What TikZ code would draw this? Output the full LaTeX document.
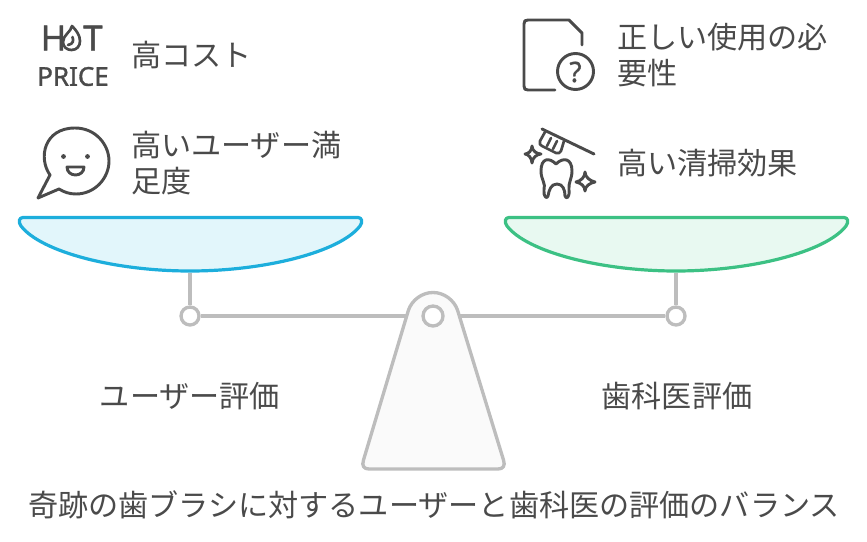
\documentclass[tikz,border=0pt]{standalone}
\usepackage{fontspec}
\setmainfont{Noto Sans CJK JP}
\newfontfamily\iconfont[FakeBold=1.2]{Noto Sans}
\definecolor{ink}{HTML}{4A4A4A}
\definecolor{beam}{HTML}{BDBDBD}
\definecolor{bluel}{HTML}{1DAEDC}
\definecolor{bluef}{HTML}{E2F6FB}
\definecolor{greenl}{HTML}{3CC184}
\definecolor{greenf}{HTML}{E8F9F1}
\tikzset{
  lbl/.style={font=\fontsize{22.6pt}{27pt}\selectfont,text=ink,inner sep=0pt,outer sep=0pt},
  lblL/.style={lbl,anchor=west,align=left},
  pivot/.style={circle,draw=beam,line width=2.5pt,fill=white,inner sep=0pt},
  bar/.style={draw=beam,line width=2.6pt},
  pan/.style={line width=2.4pt,line join=round},
  icon/.style={draw=ink,line width=2.2pt,line cap=round,line join=round},
  iconthin/.style={draw=ink,line width=2pt,line cap=round,line join=round},
  icontext/.style={font=\iconfont\fontsize{#1}{#1}\selectfont,text=ink,inner sep=0pt},
}
\begin{document}
\begin{tikzpicture}[x=0.75pt,y=-0.75pt]
\useasboundingbox (0,0) rectangle (867,542);
% pans
\draw[pan,draw=bluel,fill=bluef]
  (23,217.5) -- (358,217.5) .. controls (362,217.5) and (363,222) .. (360,226)
  .. controls (340,252) and (265,271) .. (190,271)
  .. controls (115,271) and (41,252) .. (21,226)
  .. controls (18,222) and (19,217.5) .. (23,217.5) -- cycle;
\draw[pan,draw=greenl,fill=greenf]
  (509,217.5) -- (844,217.5) .. controls (848,217.5) and (849,222) .. (846,226)
  .. controls (826,252) and (751,271) .. (676,271)
  .. controls (601,271) and (527,252) .. (507,226)
  .. controls (504,222) and (505,217.5) .. (509,217.5) -- cycle;
\coordinate (panL) at (190,272.5);
\coordinate (panR) at (676,272.5);
\node[pivot,minimum size=13.5pt] (hingeL) at (190,316) {};
\node[pivot,minimum size=13.5pt] (hingeR) at (676,316) {};
\node[pivot,minimum size=15pt] (centre) at (433,316) {};
\draw[bar] (panL) -- (hingeL);
\draw[bar] (panR) -- (hingeR);
\draw[bar] (hingeL) -- (centre);
\draw[bar] (hingeR) -- (centre);
% stand
\draw[draw=beam,fill=gray!4,line width=2.5pt,line join=round]
  (408.5,310) .. controls (412,300) and (422,292.5) .. (433,292.5)
  .. controls (444,292.5) and (454,300) .. (457.5,310)
  -- (503.5,460) .. controls (505.5,466) and (503,469) .. (498,469)
  -- (369,469) .. controls (364,469) and (361.5,466) .. (363.5,460) -- cycle;
\node[pivot,minimum size=15pt] at (433,316) {};
% labels
\node[lblL] (a) at (131,55) {高コスト};
\node[lblL,text width=225pt] (b) at (131,163) {高いユーザー満\\足度};
\node[lblL,text width=225pt] (c) at (617,55) {正しい使用の必\\要性};
\node[lblL] (d) at (617,163) {高い清掃効果};
\node[lbl] (e) at (190,396) {ユーザー評価};
\node[lbl] (f) at (677,396) {歯科医評価};
\node[lbl] (g) at (434,505) {奇跡の歯ブラシに対するユーザーと歯科医の評価のバランス};
% hot price icon
\node[icontext=26pt] (hotH) at (53.5,38) {H};
\node[icontext=26pt] (hotT) at (93,38) {T};
\node[icontext=19.5pt] (price) at (73,76.5) {PRICE};
\draw[iconthin] (72,26) .. controls (71,32) and (63,35) .. (63,42)
  .. controls (63,47) and (67,50) .. (71.5,50)
  .. controls (77,50) and (80,46) .. (80,41)
  .. controls (80,35) and (76,30) .. (72,26) -- cycle;
\draw[iconthin] (72.5,37) .. controls (74,41) and (73,44) .. (68,45);
% speech bubble
\draw[icon] (50,175) .. controls (38,158) and (44,128) .. (75,128)
  .. controls (96,128) and (109,145) .. (109,161)
  .. controls (109,178) and (95,194) .. (76,194)
  .. controls (69,194) and (64,192) .. (59,189)
  -- (38,198) -- cycle;
\fill[ink] (63.5,156.5) circle (2.4);
\fill[ink] (87.5,156.5) circle (2.4);
\draw[icon,fill=white] (67,167) -- (84,167) .. controls (84,172) and (80,175) .. (75.5,175)
  .. controls (71,175) and (67,172) .. (67,167) -- cycle;
% document icon
\draw[icon] (555,90) -- (528,90) .. controls (525,90) and (524,89) .. (524,86)
  -- (524,24) .. controls (524,21) and (525,20) .. (528,20)
  -- (569,20) -- (582,33) -- (582,45);
\draw[icon] (575.5,71.5) circle (18);
\node[icontext=21pt] (quest) at (575.5,72) {?};
% toothbrush icon
\draw[icon] (542,129) -- (594,154);
\draw[iconthin] (545,132) -- (540,141) .. controls (539,144) and (540,145) .. (542,146)
  -- (556,153) .. controls (558,154) and (560,153) .. (561,151) -- (564,141);
\draw[iconthin] (551,138) -- (547,146);
\draw[iconthin] (557,141) -- (553,149);
% tooth
\draw[icon] (556,164) .. controls (549,157) and (541,158) .. (541,171)
  .. controls (541,180) and (546,183) .. (544,190)
  .. controls (543,196) and (547,200) .. (548,196)
  .. controls (549,190) and (551,184) .. (557,184)
  .. controls (563,184) and (565,190) .. (565,196)
  .. controls (566,200) and (570,197) .. (569,190)
  .. controls (568,183) and (572,179) .. (572,171)
  .. controls (572,158) and (563,157) .. (556,164) -- cycle;
% sparkles
\draw[icon] (532,146) .. controls (532,151) and (537,154) .. (541,154)
  .. controls (537,154) and (532,158) .. (532,163)
  .. controls (532,158) and (528,154) .. (525,154)
  .. controls (528,154) and (532,151) .. (532,146) -- cycle;
\draw[icon] (585,172) .. controls (585,177) and (590,181) .. (595,182)
  .. controls (590,183) and (585,186) .. (585,191)
  .. controls (585,186) and (581,183) .. (576,182)
  .. controls (581,181) and (585,177) .. (585,172) -- cycle;
\end{tikzpicture}
\end{document}
